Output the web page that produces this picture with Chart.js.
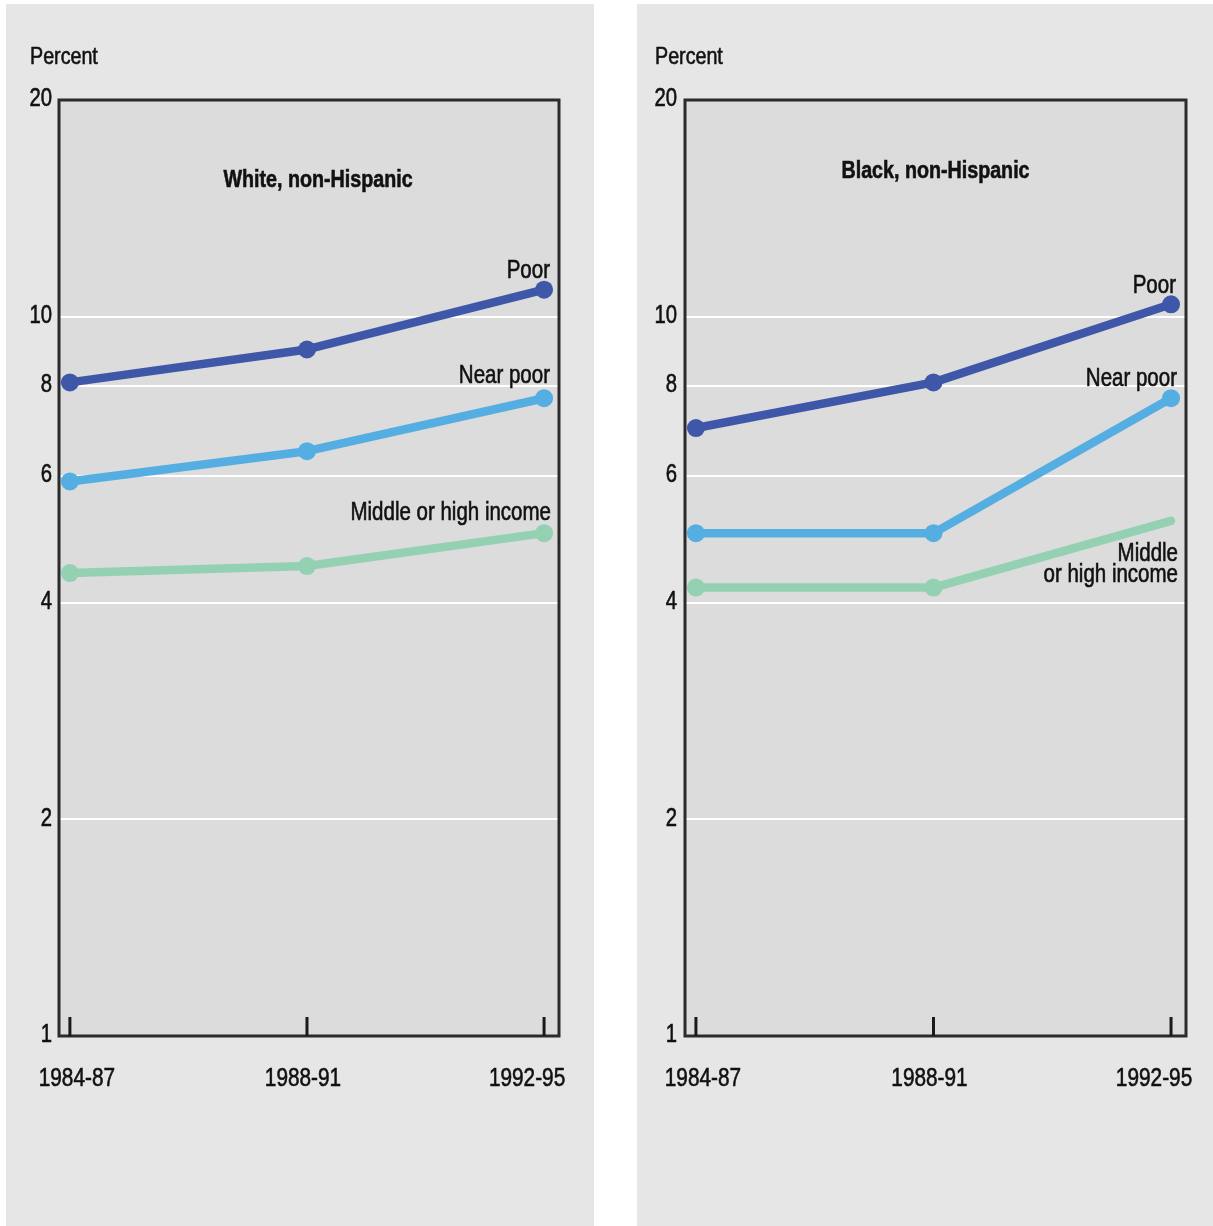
<!DOCTYPE html>
<html>
<head>
<meta charset="utf-8">
<script src="https://cdn.jsdelivr.net/npm/chart.js@4.4.1/dist/chart.umd.min.js"></script>
<style>
  html, body { margin: 0; padding: 0; background: #ffffff; }
  body { width: 1213px; height: 1226px; position: relative; overflow: hidden; }
  .panel { position: absolute; background: #e6e6e6; }
  #p1 { left: 6px; top: 4px; width: 588px; height: 1222px; }
  #p2 { left: 637px; top: 4px; width: 576px; height: 1222px; }
  canvas { display: block; }
</style>
</head>
<body>
<div class="panel" id="p1"><canvas id="c1" width="588" height="1222"></canvas></div>
<div class="panel" id="p2"><canvas id="c2" width="576" height="1222"></canvas></div>
<script>
// ---- Data ----
const categories = ['1984-87', '1988-91', '1992-95'];
const yTickValues = [1, 2, 4, 6, 8, 10, 20];
const gridValues = [2, 4, 6, 8, 10];
const seriesNames = ['Poor', 'Near poor', 'Middle or high income'];

const whitePoor = [8.1, 9.0, 10.9];
const whiteNearPoor = [5.9, 6.5, 7.7];
const whiteMiddle = [4.4, 4.5, 5.0];

const blackPoor = [7.0, 8.1, 10.4];
const blackNearPoor = [5.0, 5.0, 7.7];
const blackMiddle = [4.2, 4.2, 5.2];

const panelTitles = ['White, non-Hispanic', 'Black, non-Hispanic'];
const yAxisTitle = 'Percent';

// ---- Styling ----
const COLORS = ['#3f57a8', '#54aee2', '#94d1b2'];
const FONT = '"Liberation Sans", Arial, sans-serif';
const NARROW = 0.82;
const TEXT = '#111111';
const X_LABEL_SHIFT = [7, -4, -17];

function narrowText(ctx, text, x, y, align, font, sx) {
  ctx.save();
  ctx.font = font;
  ctx.textAlign = align;
  ctx.textBaseline = 'middle';
  ctx.translate(x, y);
  ctx.scale(sx, 1);
  ctx.fillStyle = TEXT;
  ctx.strokeStyle = TEXT;
  ctx.lineWidth = 0.6;
  ctx.fillText(text, 0, 0);
  ctx.strokeText(text, 0, 0);
  ctx.restore();
}

function makeDataset(values, idx, radii) {
  return {
    label: seriesNames[idx],
    data: values.map((v, i) => ({ x: i, y: v })),
    borderColor: COLORS[idx],
    backgroundColor: COLORS[idx],
    pointBackgroundColor: COLORS[idx],
    pointBorderWidth: 0,
    pointRadius: radii || 9,
    pointHoverRadius: radii || 9,
    borderWidth: 8.5,
    tension: 0,
    borderCapStyle: 'round',
    borderJoinStyle: 'round',
    clip: false
  };
}

function panelPlugin(opts) {
  return {
    id: 'panelDeco' + opts.id,
    beforeDraw(chart) {
      const { ctx, chartArea: a } = chart;
      ctx.save();
      ctx.fillStyle = '#dcdcdc';
      ctx.fillRect(a.left, a.top, a.right - a.left, a.bottom - a.top);
      ctx.restore();
    },
    afterDatasetsDraw(chart) {
      const { ctx, chartArea: a, scales } = chart;
      ctx.save();
      // frame
      ctx.strokeStyle = '#2b2b2b';
      ctx.lineWidth = 3;
      ctx.strokeRect(a.left, a.top, a.right - a.left, a.bottom - a.top);
      // bottom tick marks
      ctx.lineWidth = 3;
      ctx.strokeStyle = '#1a1a1a';
      categories.forEach((c, i) => {
        const x = scales.x.getPixelForValue(i);
        ctx.beginPath();
        ctx.moveTo(x, a.bottom);
        ctx.lineTo(x, a.bottom - 19);
        ctx.stroke();
      });
      // x category labels
      categories.forEach((c, i) => {
        const x = scales.x.getPixelForValue(i) + X_LABEL_SHIFT[i];
        narrowText(ctx, c, x, a.bottom + 43, 'center', '26px ' + FONT, 0.8);
      });
      // y tick labels
      yTickValues.forEach(v => {
        const y = scales.y.getPixelForValue(v);
        narrowText(ctx, String(v), a.left + opts.yLabelDx, y - 1, 'right', '26px ' + FONT, 0.78);
      });
      // axis title
      narrowText(ctx, yAxisTitle, a.left + opts.percentDx, a.top - 43, 'left', '24px ' + FONT, NARROW);
      // panel title
      narrowText(ctx, opts.title, (a.left + a.right) / 2 + opts.titleDx, a.top + opts.titleDy, 'center', 'bold 24px ' + FONT, NARROW);
      // series labels
      opts.labels.forEach(l => {
        const ds = chart.data.datasets[l.ds];
        const last = ds.data[ds.data.length - 1];
        const y = scales.y.getPixelForValue(last.y);
        l.lines.forEach((t, k) => {
          narrowText(ctx, t, a.right + l.dx, y + l.dy + k * 21, 'right', '25px ' + FONT, NARROW);
        });
      });
      ctx.restore();
    }
  };
}

function makeChart(canvasId, datasets, opts) {
  return new Chart(document.getElementById(canvasId), {
    type: 'line',
    data: { datasets },
    options: {
      responsive: false,
      animation: false,
      events: [],
      layout: { padding: { top: 96, right: opts.padRight, left: 0, bottom: 0 } },
      plugins: { legend: { display: false }, tooltip: { enabled: false } },
      scales: {
        x: {
          type: 'linear',
          min: -0.046,
          max: 2.063,
          afterBuildTicks: s => { s.ticks = categories.map((c, i) => ({ value: i })); },
          afterFit: s => { s.height = 190; },
          grid: { display: false, drawTicks: false },
          border: { display: false },
          ticks: { display: false }
        },
        y: {
          type: 'logarithmic',
          min: 1,
          max: 20,
          afterBuildTicks: s => { s.ticks = yTickValues.map(v => ({ value: v })); },
          afterFit: s => { s.width = opts.yWidth; },
          grid: {
            drawTicks: false,
            lineWidth: 2,
            color: c => gridValues.includes(c.tick && c.tick.value) ? '#ffffff' : 'rgba(0,0,0,0)'
          },
          border: { display: false },
          ticks: { display: false }
        }
      }
    },
    plugins: [panelPlugin(opts)]
  });
}

makeChart('c1', [
  makeDataset(whitePoor, 0),
  makeDataset(whiteNearPoor, 1),
  makeDataset(whiteMiddle, 2)
], {
  id: 1, padRight: 35, yWidth: 53, percentDx: -29, yLabelDx: -7,
  title: panelTitles[0], titleDx: 9, titleDy: 80,
  labels: [
    { ds: 0, dx: -9, dy: -19, lines: ['Poor'] },
    { ds: 1, dx: -9, dy: -22, lines: ['Near poor'] },
    { ds: 2, dx: -8, dy: -20, lines: ['Middle or high income'] }
  ]
});

makeChart('c2', [
  makeDataset(blackPoor, 0),
  makeDataset(blackNearPoor, 1),
  makeDataset(blackMiddle, 2, [9, 9, 0])
], {
  id: 2, padRight: 27, yWidth: 48, percentDx: -30, yLabelDx: -8,
  title: panelTitles[1], titleDx: 0, titleDy: 71,
  labels: [
    { ds: 0, dx: -10, dy: -18, lines: ['Poor'] },
    { ds: 1, dx: -9, dy: -19, lines: ['Near poor'] },
    { ds: 2, dx: -8, dy: 33, lines: ['Middle', 'or high income'] }
  ]
});
</script>
</body>
</html>
